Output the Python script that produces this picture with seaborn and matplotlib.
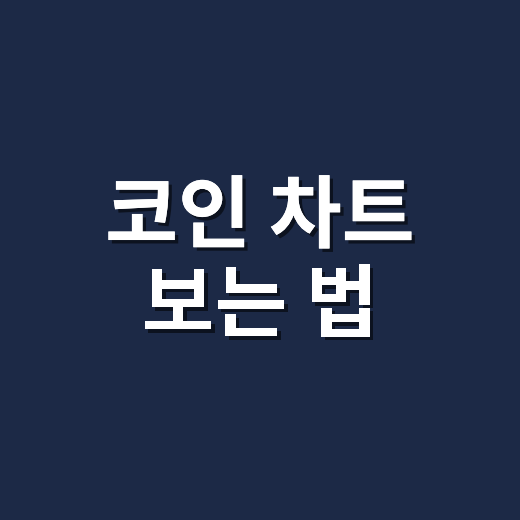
import matplotlib
matplotlib.use("Agg")
import matplotlib.pyplot as plt
import matplotlib.patheffects as pe
import seaborn as sns

# title card text, one entry per line
title_lines = ["코인 차트", "보는 법"]
bg_color = "#1c2946"

sns.set_theme(style="dark", rc={"figure.facecolor": bg_color, "axes.facecolor": bg_color})
plt.rcParams['font.family'] = ['Noto Sans CJK KR', 'DejaVu Sans']

fig, ax = plt.subplots(figsize=(5.2, 5.2), dpi=100)
fig.subplots_adjust(0, 0, 1, 1)
ax.set_xlim(0, 1)
ax.set_ylim(0, 1)
ax.set_axis_off()

ax.text(0.5, 0.495, "\n".join(title_lines), ha="center", va="center",
        fontsize=57, fontweight="bold", color="white", linespacing=1.13,
        path_effects=[pe.withSimplePatchShadow(offset=(2.5, -2.5), shadow_rgbFace="black", alpha=0.55),
                      pe.Normal()])

plt.savefig("out.png", dpi=100, facecolor=bg_color)
